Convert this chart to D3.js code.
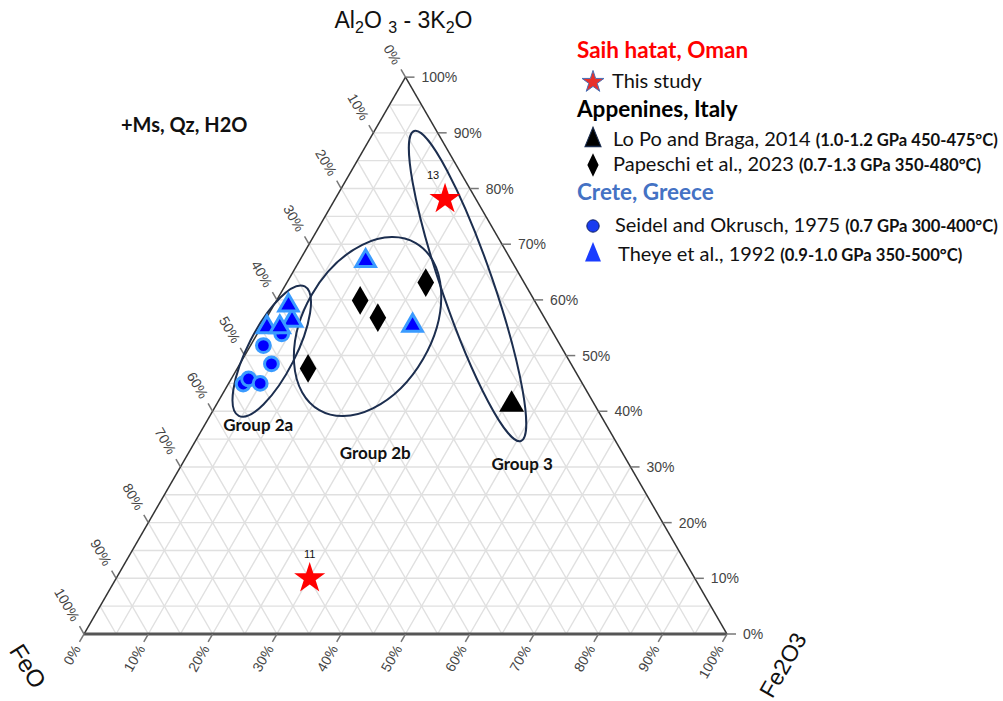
<!DOCTYPE html>
<html>
<head>
<meta charset="utf-8">
<script src="https://cdn.jsdelivr.net/npm/d3@7"></script>
<style>
  body { margin: 0; background: #fff; }
  svg { display: block; }
</style>
</head>
<body>
<div id="chart"></div>
<script>
// values in % : Al2O3-3K2O (top), FeO (left), Fe2O3 (right)
const studyLabels = ["13", "11"];
const studyAl = [78.1, 10.0];
const studyFeO = [4.8, 59.9];
const studyFe2O3 = [17.1, 30.1];

const loPoAl = [41.2];
const loPoFeO = [12.9];
const loPoFe2O3 = [45.9];

const papeschiAl = [59.9, 56.8, 63.1, 47.7];
const papeschiFeO = [27.1, 25.9, 15.3, 41.3];
const papeschiFe2O3 = [13.0, 17.3, 21.6, 11.0];

const seidelAl = [53.9, 51.8, 48.5, 44.9, 45.8, 45.0];
const seidelFeO = [42.3, 46.2, 46.6, 52.8, 51.5, 50.1];
const seidelFe2O3 = [3.8, 2.0, 4.9, 2.3, 2.7, 4.9];

const theyeAl = [56.3, 67.0, 55.4, 59.0, 55.1, 55.1];
const theyeFeO = [39.5, 22.7, 21.2, 38.7, 44.0, 42.0];
const theyeFe2O3 = [4.2, 10.3, 23.4, 2.3, 0.9, 2.9];

// group envelopes: centre in %, half axes in % of a side, tilt in degrees
const groupNames = ["Group 2a", "Group 2b", "Group 3"];
const groupAl = [50.8, 55.2, 62.5];
const groupFeO = [45.4, 28.3, 9.1];
const groupFe2O3 = [3.8, 16.5, 28.4];
const groupRx = [11.3, 15.0, 25.5];
const groupRy = [3.7, 10.0, 4.0];
const groupTilt = [-63, -60, 71];
const groupLabelAl = [37.6, 32.6, 30.7];
const groupLabelFe2O3 = [8.3, 29.0, 52.8];

const tickValues = d3.range(0, 101, 10);
const gridValues = d3.range(5, 100, 5);

const legendRegions = ["Saih hatat, Oman", "Appenines, Italy", "Crete, Greece"];
const legendNames = ["This study", "Lo Po and Braga, 2014", "Papeschi et al., 2023",
                     "Seidel and Okrusch, 1975", "Theye et al., 1992"];
const legendConditions = ["", "(1.0-1.2 GPa 450-475°C)", "(0.7-1.3 GPa 350-480°C)",
                          "(0.7 GPa 300-400°C)", "(0.9-1.0 GPa 350-500°C)"];

const width = 1003, height = 701;
const origin = {x: 84, y: 634};
const sideLen = 643;
const H3 = Math.sqrt(3) / 2;
const side = d3.scaleLinear().domain([0, 100]).range([0, sideLen]);

// a = top component, c = right component
function pt(a, c) {
    return [origin.x + side(c) + side(a) / 2, origin.y - side(a) * H3];
}
function norm(a, b, c) {
    const s = a + b + c;
    return [a * 100 / s, c * 100 / s];
}

const svg = d3.select("#chart").append("svg")
    .attr("width", width)
    .attr("height", height);

// grid
const grid = svg.append("g")
    .attr("stroke", "#e0e0e0")
    .attr("stroke-width", 1.4)
    .attr("fill", "none");

gridValues.forEach(v => {
    const segs = [
        [pt(v, 0), pt(v, 100 - v)],
        [pt(0, v), pt(100 - v, v)],
        [pt(100 - v, 0), pt(0, 100 - v)]
    ];
    segs.forEach(s => grid.append("line")
        .attr("x1", s[0][0]).attr("y1", s[0][1])
        .attr("x2", s[1][0]).attr("y2", s[1][1]));
});

// edges
const A = pt(100, 0), L = pt(0, 0), R = pt(0, 100);
svg.append("line").attr("x1", L[0]).attr("y1", L[1]).attr("x2", A[0]).attr("y2", A[1])
    .attr("stroke", "#333").attr("stroke-width", 1.5);
svg.append("line").attr("x1", R[0]).attr("y1", R[1]).attr("x2", A[0]).attr("y2", A[1])
    .attr("stroke", "#333").attr("stroke-width", 1.5);
svg.append("line").attr("x1", L[0]).attr("y1", L[1]).attr("x2", R[0]).attr("y2", R[1])
    .attr("stroke", "#555").attr("stroke-width", 3);

// ticks and tick labels
const tickLen = 9;
const axes = svg.append("g")
    .attr("font-family", "Liberation Sans, Arial, sans-serif")
    .attr("font-size", 14)
    .attr("fill", "#444");

tickValues.forEach(v => {
    // right side: Al2O3
    let p = pt(v, 100 - v);
    axes.append("line").attr("x1", p[0]).attr("y1", p[1]).attr("x2", p[0] + tickLen).attr("y2", p[1])
        .attr("stroke", "#777").attr("stroke-width", 1.5);
    axes.append("text").attr("x", p[0] + 16).attr("y", p[1])
        .attr("dominant-baseline", "central").text(v + "%");

    // bottom: Fe2O3
    p = pt(0, v);
    let dx = -0.5, dy = H3;
    axes.append("line").attr("x1", p[0]).attr("y1", p[1])
        .attr("x2", p[0] + dx * tickLen).attr("y2", p[1] + dy * tickLen)
        .attr("stroke", "#777").attr("stroke-width", 1.5);
    let tx = p[0] + dx * 14, ty = p[1] + dy * 14;
    axes.append("text")
        .attr("transform", `translate(${tx},${ty}) rotate(-60)`)
        .attr("text-anchor", "end").attr("dominant-baseline", "central")
        .text(v + "%");

    // left side: FeO
    p = pt(100 - v, 0);
    dx = -0.5; dy = -H3;
    axes.append("line").attr("x1", p[0]).attr("y1", p[1])
        .attr("x2", p[0] + dx * tickLen).attr("y2", p[1] + dy * tickLen)
        .attr("stroke", "#777").attr("stroke-width", 1.5);
    tx = p[0] + dx * 16; ty = p[1] + dy * 16;
    axes.append("text")
        .attr("transform", `translate(${tx},${ty}) rotate(60)`)
        .attr("text-anchor", "end").attr("dominant-baseline", "central")
        .text(v + "%");
});

// axis titles
const title = svg.append("text")
    .attr("x", A[0] - 2).attr("y", 28)
    .attr("text-anchor", "middle")
    .attr("font-family", "Liberation Sans, Arial, sans-serif")
    .attr("font-size", 23)
    .attr("fill", "#111");
title.append("tspan").text("Al");
title.append("tspan").attr("font-size", 16).attr("dy", 5).text("2");
title.append("tspan").attr("dy", -5).text("O ");
title.append("tspan").attr("font-size", 16).attr("dy", 5).text("3");
title.append("tspan").attr("dy", -5).text(" - 3K");
title.append("tspan").attr("font-size", 16).attr("dy", 5).text("2");
title.append("tspan").attr("dy", -5).text("O");

svg.append("text")
    .attr("transform", `translate(${L[0] - 56},${L[1] + 32}) rotate(58)`)
    .attr("text-anchor", "middle").attr("dominant-baseline", "central")
    .attr("font-family", "Liberation Sans, Arial, sans-serif")
    .attr("font-size", 24).attr("fill", "#111")
    .text("FeO");

svg.append("text")
    .attr("transform", `translate(${R[0] + 56},${R[1] + 31}) rotate(-60)`)
    .attr("text-anchor", "middle").attr("dominant-baseline", "central")
    .attr("font-family", "Liberation Sans, Arial, sans-serif")
    .attr("font-size", 23).attr("fill", "#111")
    .text("Fe2O3");

// group envelopes
const groups = svg.append("g");
groupNames.forEach((name, i) => {
    const [a, c] = norm(groupAl[i], groupFeO[i], groupFe2O3[i]);
    const p = pt(a, c);
    groups.append("ellipse")
        .attr("transform", `translate(${p[0]},${p[1]}) rotate(${groupTilt[i]})`)
        .attr("rx", side(groupRx[i]))
        .attr("ry", side(groupRy[i]))
        .attr("fill", "none")
        .attr("stroke", "#1c2e4f")
        .attr("stroke-width", 2);
    const lp = pt(groupLabelAl[i], groupLabelFe2O3[i]);
    groups.append("text")
        .attr("x", lp[0]).attr("y", lp[1])
        .attr("text-anchor", "middle").attr("dominant-baseline", "central")
        .attr("font-family", "Lato, sans-serif")
        .attr("font-weight", "bold").attr("font-size", 17)
        .attr("fill", "#111")
        .text(name);
});

svg.append("text")
    .attr("x", 121).attr("y", 132)
    .attr("font-family", "Lato, sans-serif")
    .attr("font-weight", "bold").attr("font-size", 20)
    .attr("fill", "#111")
    .text("+Ms, Qz, H2O");

// markers
function series(al, feo, fe2o3) {
    return al.map((v, i) => norm(v, feo[i], fe2o3[i]));
}
const marks = svg.append("g");

function drawSymbols(data, type, size, fill, stroke, sw) {
    marks.selectAll(null)
        .data(data)
        .enter().append("path")
        .attr("transform", d => { const p = pt(d[0], d[1]); return `translate(${p[0]},${p[1]})`; })
        .attr("d", d3.symbol().type(type).size(size))
        .attr("fill", fill)
        .attr("stroke", stroke)
        .attr("stroke-width", sw);
}

drawSymbols(series(seidelAl, seidelFeO, seidelFe2O3), d3.symbolCircle, 150, "#0000ff", "#3a9bff", 3);
drawSymbols(series(theyeAl, theyeFeO, theyeFe2O3), d3.symbolTriangle, 165, "#0000ff", "#3a9bff", 3);
drawSymbols(series(papeschiAl, papeschiFeO, papeschiFe2O3), d3.symbolDiamond, 240, "#000", "none", 0);
drawSymbols(series(loPoAl, loPoFeO, loPoFe2O3), d3.symbolTriangle, 270, "#000", "none", 0);

const studyData = series(studyAl, studyFeO, studyFe2O3);
drawSymbols(studyData, d3.symbolStar, 300, "#ff0000", "none", 0);
marks.selectAll(null)
    .data(studyData)
    .enter().append("text")
    .attr("x", (d, i) => pt(d[0], d[1])[0] - (i === 0 ? 12 : 0))
    .attr("y", d => pt(d[0], d[1])[1] - 20)
    .attr("text-anchor", "middle")
    .attr("font-family", "Liberation Sans, Arial, sans-serif")
    .attr("font-size", 11)
    .attr("fill", "#111")
    .text((d, i) => studyLabels[i]);

// legend
const legend = svg.append("g")
    .attr("font-family", "Lato, sans-serif");

const regionY = [58, 117, 200];
const regionColors = ["#ff0000", "#000", "#4472c4"];
legendRegions.forEach((r, i) => {
    legend.append("text")
        .attr("x", 577).attr("y", regionY[i])
        .attr("font-weight", "bold").attr("font-size", 22.5)
        .attr("fill", regionColors[i])
        .text(r);
});

const itemY = [88, 146, 171, 232, 261];
const itemX = [612, 613, 613, 615, 618];
const symX = 593;
const legendSymbols = [
    {type: d3.symbolStar, size: 150, fill: "#e8302a", stroke: "#4a6fb5", sw: 1, sy: 1},
    {type: d3.symbolTriangle, size: 110, fill: "#000", stroke: "#1c2e4f", sw: 1, sy: 1.4},
    {type: d3.symbolDiamond, size: 110, fill: "#000", stroke: "none", sw: 0, sy: 1.2},
    {type: d3.symbolCircle, size: 120, fill: "#1a3cf0", stroke: "#0d1f66", sw: 1, sy: 1},
    {type: d3.symbolTriangle, size: 110, fill: "#1a3cff", stroke: "none", sw: 0, sy: 1.4}
];

legendNames.forEach((n, i) => {
    const s = legendSymbols[i];
    legend.append("path")
        .attr("transform", `translate(${symX},${itemY[i] - 6}) scale(1,${s.sy})`)
        .attr("d", d3.symbol().type(s.type).size(s.size))
        .attr("fill", s.fill)
        .attr("stroke", s.stroke)
        .attr("stroke-width", s.sw);
    const t = legend.append("text")
        .attr("x", itemX[i]).attr("y", itemY[i])
        .attr("font-size", 20)
        .attr("fill", "#111");
    t.append("tspan").text(n + " ");
    if (legendConditions[i]) {
        t.append("tspan")
            .attr("font-weight", "bold").attr("font-size", 16.6)
            .text(legendConditions[i]);
    }
});
</script>
</body>
</html>
